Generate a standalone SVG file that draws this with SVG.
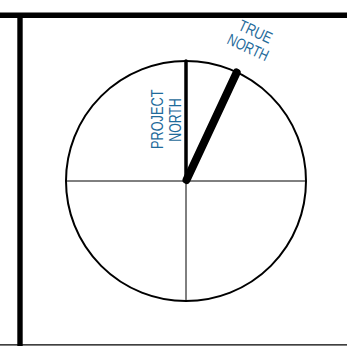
<svg xmlns="http://www.w3.org/2000/svg" width="347" height="346" viewBox="0 0 347 346">
<style>
.lbl{font-family:"Liberation Sans Narrow","Liberation Sans",Arial,sans-serif;font-size:16px;fill:#1f6b9b;text-anchor:middle}
.frame{stroke:#000;fill:none}
.thin{stroke:#000;stroke-width:1;fill:none}
</style>
<rect width="347" height="346" fill="#fff"/>
<g id="frame">
<line class="frame" x1="0" y1="15.3" x2="347" y2="15.3" stroke-width="5.5"/>
<line class="frame" x1="20" y1="13" x2="20" y2="346" stroke-width="5.4"/>
<line class="frame" x1="0" y1="344.8" x2="347" y2="344.8" stroke-width="1.2"/>
</g>
<g id="compass">
<circle cx="186" cy="181" r="120" fill="none" stroke="#000" stroke-width="2"/>
<line class="thin" x1="66" y1="181" x2="306" y2="181"/>
<line class="thin" x1="186" y1="181" x2="186" y2="301"/>
</g>
<g id="connectors">
<line id="project-north" x1="186" y1="181" x2="186" y2="61" stroke="#000" stroke-width="3.5" stroke-linecap="round"/>
<line id="true-north" x1="186.5" y1="180" x2="236.7" y2="72.5" stroke="#000" stroke-width="8" stroke-linecap="round"/>
</g>
<g id="project-north-label">
<text class="lbl" transform="translate(163.3,119.3) rotate(-90)" textLength="59.5" lengthAdjust="spacingAndGlyphs">PROJECT</text>
<text class="lbl" transform="translate(180.7,120) rotate(-90)" textLength="43.5" lengthAdjust="spacingAndGlyphs">NORTH</text>
</g>
<g id="true-north-label">
<text class="lbl" transform="translate(253.2,36.6) rotate(25)" textLength="35" lengthAdjust="spacingAndGlyphs">TRUE</text>
<text class="lbl" transform="translate(245.8,52.4) rotate(25)" textLength="43.5" lengthAdjust="spacingAndGlyphs">NORTH</text>
</g>
</svg>
